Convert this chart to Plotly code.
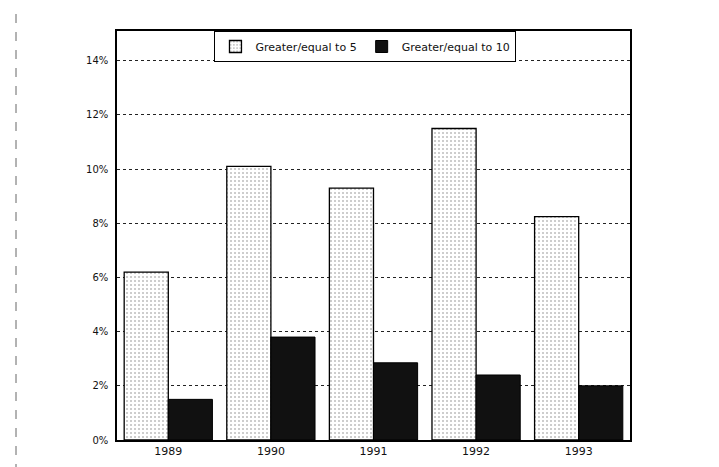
import plotly.graph_objects as go

years = ["1989", "1990", "1991", "1992", "1993"]
ge5 = [6.2, 10.1, 9.3, 11.5, 8.25]
ge10 = [1.5, 3.8, 2.85, 2.4, 2.0]
series_names = ["Greater/equal to 5", "Greater/equal to 10"]
y_ticks = [0, 2, 4, 6, 8, 10, 12, 14]
y_tick_labels = [f"{v}%" for v in y_ticks]

FONT = "DejaVu Sans"

fig = go.Figure()
fig.add_trace(go.Bar(
    x=years, y=ge5, name=series_names[0],
    marker=dict(color="white", line=dict(color="black", width=1.3),
                pattern=dict(shape=".", fgcolor="#7a7a7a", bgcolor="white",
                             size=4, solidity=0.2)),
))
fig.add_trace(go.Bar(
    x=years, y=ge10, name=series_names[1],
    marker=dict(color="#111111", line=dict(color="black", width=1)),
))

fig.update_layout(
    width=719, height=467,
    margin=dict(l=109, r=97, t=23, b=35),
    paper_bgcolor="white", plot_bgcolor="white",
    barmode="group", bargap=0.14, bargroupgap=0,
    font=dict(family=FONT, size=10, color="#111"),
    showlegend=True,
    legend=dict(orientation="h", x=0.19, xanchor="left", y=1.0, yanchor="top",
                bordercolor="black", borderwidth=1, bgcolor="white",
                font=dict(family=FONT, size=11, color="#111"),
                itemwidth=30, tracegroupgap=0),
)
fig.update_xaxes(
    type="category", showline=True, linecolor="black", linewidth=1.5,
    mirror=True, ticks="", showgrid=False,
    tickfont=dict(family=FONT, size=11),
)
fig.update_yaxes(
    range=[0, 15.1], tickvals=y_ticks, ticktext=y_tick_labels,
    showline=True, linecolor="black", linewidth=1.5, mirror=True,
    ticks="", showgrid=True, gridcolor="#222", gridwidth=1, griddash="dot",
    zeroline=False, tickfont=dict(family=FONT, size=10), ticklabelstandoff=5,
)
# scanned page border
fig.add_shape(type="line", xref="paper", yref="paper",
              x0=-101/513, x1=-101/513, y0=-33/409, y1=1.06,
              line=dict(color="#666", width=1, dash="dash"))
fig.add_shape(type="line", xref="paper", yref="paper",
              x0=-101/513, x1=0.62, y0=-33/409, y1=-33/409,
              line=dict(color="#666", width=1, dash="dash"))
fig.write_html("out.html")
